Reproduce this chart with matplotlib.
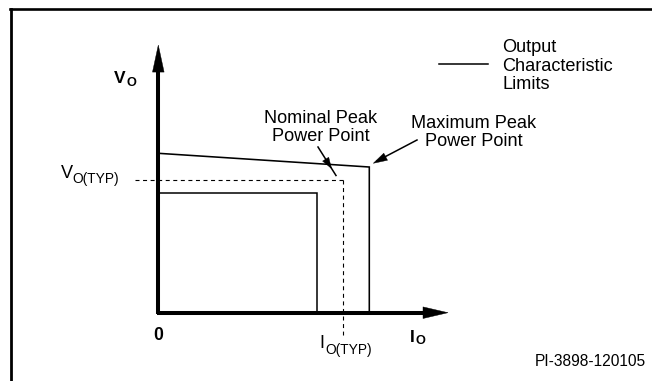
import matplotlib
matplotlib.use("Agg")
import matplotlib.pyplot as plt
from matplotlib.patches import Polygon
from matplotlib.lines import Line2D

plt.rcParams['font.family'] = ['Liberation Sans', 'DejaVu Sans']

# ---- data (normalised units: I relative to max peak current, V relative to no-load V) ----
outer_I = [0.0, 1.0, 1.0]          # maximum output characteristic limit
outer_V = [1.0, 0.914, 0.0]
inner_I = [0.0, 0.751, 0.751]      # minimum output characteristic limit
inner_V = [0.753, 0.753, 0.0]
I_TYP = 0.875                      # nominal peak power point
V_TYP = 0.8325
I_AXIS_END = 1.373
V_AXIS_END = 1.679

# ---- layout: map data units onto figure pixels ----
W, H = 652, 381
OX, OY = 158.3, 312.7      # origin in pixels
SX, SY = 211.0, 159.4      # pixels per unit

def p2d(x, y):
    return ((x - OX) / SX, (OY - y) / SY)

fig = plt.figure(figsize=(W / 100, H / 100), dpi=100)
ax = fig.add_axes([0, 0, 1, 1])
ax.set_xlim(-OX / SX, (W - OX) / SX)
ax.set_ylim(-(H - OY) / SY, OY / SY)
ax.axis('off')

# frame (top and left only)
fig.add_artist(Line2D([10 / W, 1.0], [1 - 8.7 / H, 1 - 8.7 / H], color='black', lw=1.9,
                      solid_capstyle='projecting'))
fig.add_artist(Line2D([10.5 / W, 10.5 / W], [0, 1 - 8.7 / H], color='black', lw=2.0,
                      solid_capstyle='projecting'))

def head(tip_px, tail_px, length, half_w):
    tx, ty = tip_px
    dx, dy = tx - tail_px[0], ty - tail_px[1]
    n = (dx * dx + dy * dy) ** 0.5
    ux, uy = dx / n, dy / n
    bx, by = tx - length * ux, ty - length * uy
    pts = [p2d(tx, ty), p2d(bx - half_w * uy, by + half_w * ux), p2d(bx + half_w * uy, by - half_w * ux)]
    ax.add_patch(Polygon(pts, closed=True, facecolor='black', edgecolor='black', lw=0.3))

# axes
ax.plot([0, 0], [p2d(0, OY + 1.5)[1], V_AXIS_END - 25 / SY], color='black', lw=2.9, solid_capstyle='butt')
ax.plot([-1.5 / SX, I_AXIS_END - 24 / SX], [0, 0], color='black', lw=2.9, solid_capstyle='butt')
head((OX, OY - V_AXIS_END * SY), (OX, OY), 27, 5.8)
head((OX + I_AXIS_END * SX, OY), (OX, OY), 25, 5.8)

# characteristic limits
ax.plot(outer_I, outer_V, color='black', lw=1.15, solid_joinstyle='miter')
ax.plot(inner_I, inner_V, color='black', lw=1.1, solid_joinstyle='miter')

# typical point dashed lines
dash_kw = dict(color='black', lw=0.8, dashes=(3.6, 3.2))
ax.plot([p2d(135, 0)[0], I_TYP], [V_TYP, V_TYP], **dash_kw)
ax.plot([I_TYP, I_TYP], [V_TYP, p2d(0, 335)[1]], **dash_kw)

# legend line
lx0, ly = p2d(439, 64)
lx1, _ = p2d(488, 64)
ax.plot([lx0, lx1], [ly, ly], color='black', lw=1.1)

# pointer arrows
a0, a1 = p2d(318, 147), p2d(336, 175.5)
ax.plot([a0[0], a1[0]], [a0[1], a1[1]], color='black', lw=1.1)
head((331.5, 168.5), (318, 147), 11, 3.6)
b0, b1 = p2d(417, 140), p2d(377, 161)
ax.plot([b0[0], b1[0]], [b0[1], b1[1]], color='black', lw=1.1)
head((373.3, 163.3), (417, 140), 14, 4.0)

# ---- text ----
def txt(x, y, s, size, weight='normal', ha='left'):
    dx, dy = p2d(x, y)
    ax.text(dx, dy, s, fontsize=size, fontweight=weight, ha=ha, va='baseline')

MAIN = 13.1
SUB = 9.9
txt(502, 52, 'Output', MAIN)
txt(502, 70.7, 'Characteristic', MAIN)
txt(502, 89, 'Limits', MAIN)
txt(321, 123, 'Nominal Peak', MAIN, ha='center')
txt(321, 141, 'Power Point', MAIN, ha='center')
txt(474, 128.3, 'Maximum Peak', MAIN, ha='center')
txt(474, 146, 'Power Point', MAIN, ha='center')

txt(114, 83, 'V', 12.5, 'bold')
txt(126.9, 85.7, 'O', 9.2, 'bold')
txt(61.3, 177.7, 'V', MAIN)
txt(72.8, 182.5, 'O(TYP)', SUB)
txt(158.3, 340, '0', 12.7, 'bold', ha='center')
txt(319.5, 348.3, 'I', MAIN)
txt(325.5, 354, 'O(TYP)', SUB)
txt(409.8, 341.7, 'I', 12.5, 'bold')
txt(416.0, 344.2, 'O', 9.2, 'bold')
txt(645.5, 366, 'PI-3898-120105', 11.2, ha='right')

fig.savefig('out.png', dpi=100)
